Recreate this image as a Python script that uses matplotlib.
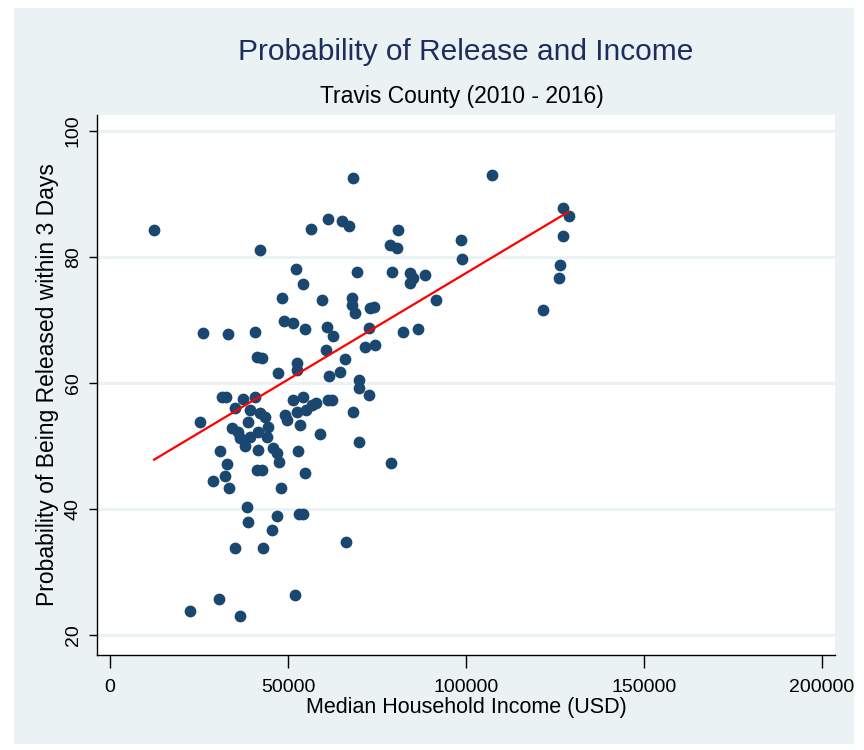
import numpy as np
import matplotlib
matplotlib.use('Agg')
import matplotlib.pyplot as plt
from matplotlib.patches import Rectangle

# median household income (USD) and probability of release within 3 days
income = [12400, 68300, 107300, 127300, 129000, 127300, 126400, 126200, 121700,
          61300, 65200, 67100, 56500, 80900, 78700, 80600, 98600, 98900, 42100,
          52200, 54200, 69400, 79200, 84300, 85100, 84300, 88500, 91600, 68000,
          68000, 68800, 73000, 74200, 48300, 59600, 72800, 82300, 86500, 26100,
          33200, 40700, 48900, 51400, 54800, 61000, 62700, 60700, 64600, 61500,
          66000, 71700, 74500, 41300, 42700, 52500, 52500, 47200, 70000, 70000,
          72800, 62400, 68300, 59000, 70000, 79000, 66300,
          31500, 32600, 37400, 40700, 35100, 25300, 39300, 42100, 43600, 38800,
          34300, 36000, 36500, 39300, 41600, 44400, 44100, 37900, 41600, 30900,
          45800, 46900, 49200, 51400, 54200, 56800, 52500, 53400, 49700, 52800,
          61300, 55100, 57900,
          32900, 28900, 32300, 33400, 41300, 42700, 47500, 54800, 48000, 38500,
          38800, 46900, 53100, 54200, 45500, 35100, 43000, 30600, 22500, 36500,
          52000]
prob = [84.3, 92.5, 92.9, 87.8, 86.4, 83.3, 78.7, 76.7, 71.6,
        86.0, 85.7, 84.9, 84.4, 84.3, 81.9, 81.4, 82.7, 79.7, 81.1,
        78.1, 75.7, 77.6, 77.6, 77.4, 76.7, 75.9, 77.1, 73.2, 73.5,
        72.4, 71.1, 71.9, 72.1, 73.5, 73.2, 68.7, 68.1, 68.6, 67.9,
        67.8, 68.1, 69.8, 69.5, 68.6, 68.9, 67.5, 65.2, 61.7, 61.0,
        63.7, 65.7, 66.0, 64.1, 64.0, 63.2, 62.1, 61.6, 60.5, 59.2,
        58.1, 57.3, 55.4, 51.8, 50.6, 47.3, 34.8,
        57.8, 57.8, 57.5, 57.8, 56.0, 53.8, 55.7, 55.2, 54.6, 53.7,
        52.9, 52.2, 51.3, 51.4, 52.2, 53.0, 51.4, 49.9, 49.4, 49.1,
        49.7, 48.9, 54.9, 57.3, 57.8, 56.5, 55.4, 53.3, 54.1, 49.1,
        57.3, 55.7, 56.8,
        47.1, 44.4, 45.2, 43.3, 46.2, 46.2, 47.5, 45.7, 43.3, 40.3,
        37.9, 38.9, 39.2, 39.2, 36.7, 33.8, 33.8, 25.7, 23.8, 23.0,
        26.4]

# fitted line (lfit) end points as drawn in the chart
fit_income = [12400, 128700]
fit_prob = [47.8, 87.1]

xticks = [0, 50000, 100000, 150000, 200000]
yticks = [20, 40, 60, 80, 100]

plt.rcParams['font.family'] = ['Liberation Sans Narrow', 'Liberation Sans', 'DejaVu Sans']

bg = '#EAF2F3'
navy = '#1A476F'

fig = plt.figure(figsize=(8.64, 7.5), dpi=100)
fig.patch.set_facecolor('white')
fig.patches.append(Rectangle((14/864, 6/750), 840/864, 736/750, transform=fig.transFigure,
                             facecolor=bg, edgecolor='none', zorder=-10))

ax = fig.add_axes([97/864, 1 - 655/750, 738/864, 540/750])
ax.set_facecolor('white')

ax.scatter(income, prob, s=72, color=navy, linewidths=0, zorder=3)
ax.plot(fit_income, fit_prob, color='red', lw=1.6, zorder=4)

ax.set_xlim(-3650, 203700)
ax.set_ylim(16.8, 102.5)
ax.set_xticks(xticks)
ax.set_yticks(yticks)
ax.set_xticklabels([str(t) for t in xticks], fontsize=14)
ax.set_yticklabels([str(t) for t in yticks], fontsize=14, rotation=90, va='center')
ax.grid(axis='y', color=bg, lw=2.2, zorder=0)
ax.grid(axis='x', visible=False)
ax.set_axisbelow(True)

for s in ['top', 'right']:
    ax.spines[s].set_visible(False)
ax.spines['left'].set_linewidth(1.0)
ax.spines['bottom'].set_linewidth(1.0)
ax.tick_params(axis='x', length=9, width=1, pad=8)
ax.tick_params(axis='y', length=6, width=1, pad=5)

ax.set_xlabel('Median Household Income (USD)', fontsize=15.5, labelpad=1)
ax.set_ylabel('Probability of Being Released within 3 Days', fontsize=16.5, labelpad=4)

fig.text(466/864, 1 - 52/750, 'Probability of Release and Income', fontsize=21.5,
         color='#1E2D5C', ha='center', va='center')
fig.text(462/864, 1 - 96/750, 'Travis County (2010 - 2016)', fontsize=16.5,
         color='black', ha='center', va='center')

fig.savefig('out.png', dpi=100, facecolor=fig.get_facecolor())
